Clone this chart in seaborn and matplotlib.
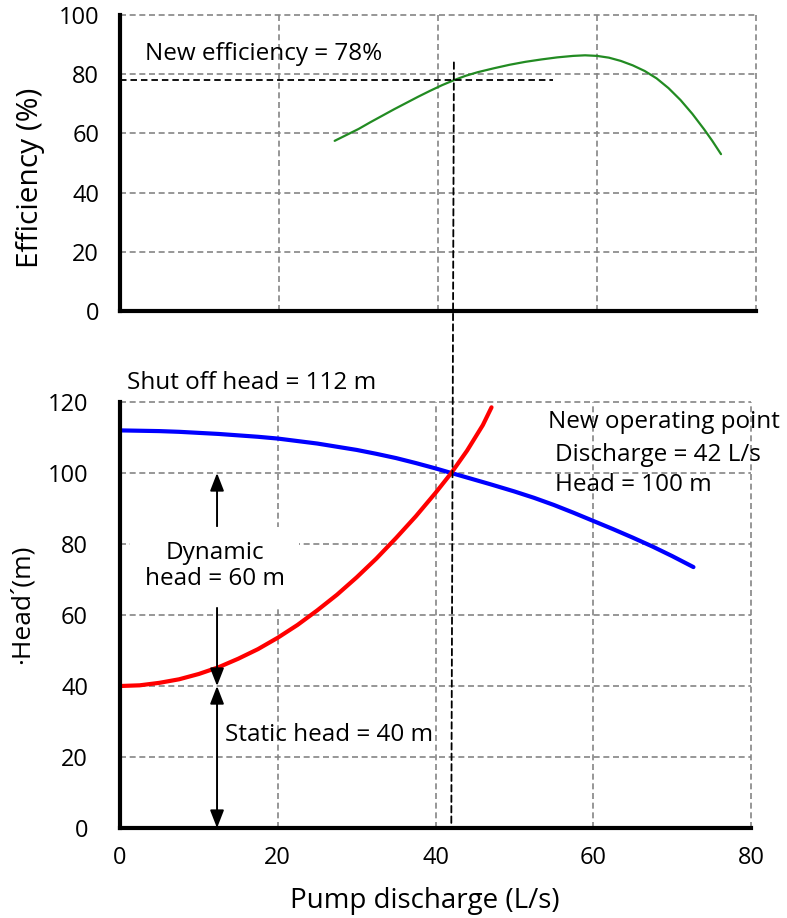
import matplotlib
matplotlib.use("Agg")
import matplotlib.pyplot as plt
from matplotlib.patches import ConnectionPatch
import seaborn as sns
import pandas as pd

# Efficiency curve
eff_flow = [27, 28.5, 30, 31.5, 33, 34.5, 36, 37.5, 39, 40.5, 42, 43.5, 45, 47, 49, 51, 53,
            55, 57, 58.5, 60, 61.5, 63, 64.5, 66, 67.5, 69, 70.5, 72, 73.5, 74.5, 75.6]
eff_pct = [57.5, 59.5, 61.5, 63.8, 66, 68.2, 70.3, 72.4, 74.4, 76.3, 78, 79.5, 80.7, 82.0,
           83.2, 84.2, 85.0, 85.7, 86.2, 86.4, 86.2, 85.6, 84.5, 83.0, 81.1, 78.6, 75.3, 71.3,
           66.6, 61.3, 57.5, 53]

# Pump head curve
pump_flow = [0, 2.5, 5, 7.5, 10, 12.5, 15, 17.5, 20, 22.5, 25, 27.5, 30, 32.5, 35, 37.5, 40,
             42, 44.5, 47, 50, 52.5, 55, 57.5, 60, 62.5, 65, 67.5, 70, 72.7]
pump_head = [112, 111.9, 111.8, 111.6, 111.3, 111.0, 110.6, 110.2, 109.7, 109.0, 108.3,
             107.4, 106.5, 105.4, 104.2, 102.8, 101.3, 100, 98.4, 96.8, 94.8, 93.0, 91.0,
             88.8, 86.5, 84.2, 81.8, 79.3, 76.6, 73.5]

# System head curve
sys_flow = [0, 2.5, 5, 7.5, 10, 12.5, 15, 17.5, 20, 22.5, 25, 27.5, 30, 32.5, 35, 37.5, 40,
            42, 44, 46, 47.1]
sys_head = [40, 40.2, 40.9, 41.9, 43.4, 45.3, 47.7, 50.4, 53.6, 57.2, 61.3, 65.7, 70.6,
            75.9, 81.7, 87.8, 94.4, 100, 106.3, 113.5, 118.5]

# Operating point and head components
op_flow = 42
op_head = 100
new_eff = 78
shutoff_head = 112
static_head = 40
dynamic_head = 60

x_ticks = [0, 20, 40, 60, 80]
eff_ticks = [0, 20, 40, 60, 80, 100]
head_ticks = [0, 20, 40, 60, 80, 100, 120]

sns.set_theme(style="white")
plt.rcParams["font.family"] = ["Open Sans", "DejaVu Sans"]
plt.rcParams["text.color"] = "black"
plt.rcParams["axes.labelcolor"] = "black"

fig = plt.figure(figsize=(7.87, 9.18), dpi=100)
ax1 = fig.add_axes([0.1525, 0.6612, 0.8081, 0.3224])
ax2 = fig.add_axes([0.1525, 0.0980, 0.8018, 0.4641])

dash = (0, (3.6, 2.2))
grid_kw = dict(color="#858585", linestyle=dash, linewidth=1.2)
for ax in (ax1, ax2):
    ax.set_xlim(0, 80)
    ax.set_xticks(x_ticks)
    ax.grid(True, **grid_kw)
    for gl in ax.get_xgridlines() + ax.get_ygridlines():
        gl.set_clip_on(False)
    ax.set_axisbelow(True)
    for side in ("top", "right"):
        ax.spines[side].set_visible(False)
    for side in ("left", "bottom"):
        ax.spines[side].set_color("black")
        ax.spines[side].set_linewidth(3.0)
        ax.spines[side].set_zorder(3)
    ax.tick_params(length=0, labelsize=17, colors="black")

# Top panel: efficiency
df_eff = pd.DataFrame({"flow": eff_flow, "eff": eff_pct})
sns.lineplot(data=df_eff, x="flow", y="eff", ax=ax1, color="#228b22", linewidth=1.6, sort=False)
ax1.set_ylim(0, 100)
ax1.set_yticks(eff_ticks)
ax1.tick_params(axis="y", pad=15)
ax1.tick_params(axis="x", labelbottom=False)
ax1.set_xlabel("")
ax1.set_ylabel("Efficiency (%)", fontsize=21.5, va="center")
ax1.yaxis.set_label_coords(-0.141, 0.449)
ax1.hlines(new_eff, 0, 54.5, colors="black", linestyles=dash, linewidth=1.3, zorder=4)
ax1.text(3.1, 87, f"New efficiency = {new_eff}%", fontsize=17.5, ha="left", va="center")

# Bottom panel: pump and system curves
df_pump = pd.DataFrame({"flow": pump_flow, "head": pump_head})
df_sys = pd.DataFrame({"flow": sys_flow, "head": sys_head})
sns.lineplot(data=df_pump, x="flow", y="head", ax=ax2, color="#0000ff", linewidth=3.0, sort=False)
sns.lineplot(data=df_sys, x="flow", y="head", ax=ax2, color="#ff0000", linewidth=3.0, sort=False)
ax2.set_ylim(0, 120)
ax2.set_yticks(head_ticks)
ax2.tick_params(axis="y", pad=23)
ax2.tick_params(axis="x", pad=13)
ax2.set_xlabel("Pump discharge (L/s)", fontsize=20, va="center")
ax2.xaxis.set_label_coords(0.483, -0.172)
ax2.set_ylabel("\u00b7Head\u00b4(m)", fontsize=19, va="center")
ax2.yaxis.set_label_coords(-0.155, 0.526)

# Vertical guide from the efficiency curve down to the operating point
con = ConnectionPatch(xyA=(op_flow, 84), coordsA=ax1.transData,
                      xyB=(op_flow, 0), coordsB=ax2.transData,
                      color="black", linestyle=dash, linewidth=1.3, zorder=5)
fig.add_artist(con)

# Head arrows
arrow_x = 12.3
arr = dict(arrowstyle="-|>,head_length=0.9,head_width=0.35", color="black", lw=1.4,
           shrinkA=0, shrinkB=0)
ax2.annotate("", xy=(arrow_x, op_head), xytext=(arrow_x, 85), arrowprops=arr)
ax2.annotate("", xy=(arrow_x, static_head), xytext=(arrow_x, 62), arrowprops=arr)
ax2.annotate("", xy=(arrow_x, 0), xytext=(arrow_x, static_head),
             arrowprops=dict(arr, arrowstyle="<|-|>,head_length=0.9,head_width=0.35"))

ax2.text(arrow_x - 0.3, 73.8, f"Dynamic\nhead = {dynamic_head} m", fontsize=17.5,
         ha="center", va="center", multialignment="center", linespacing=1.1,
         bbox=dict(boxstyle="square,pad=0.6", fc="white", ec="none"), zorder=4)
ax2.text(13.3, 26.2, f"Static head = {static_head} m", fontsize=17.5, ha="left", va="center")
ax2.text(0.9, 125.4, f"Shut off head = {shutoff_head} m", fontsize=17.5, ha="left",
         va="center", clip_on=False)
ax2.text(54.3, 114.4, "New operating point", fontsize=17.5, ha="left", va="center")
ax2.text(55.1, 105.1, f"Discharge = {op_flow} L/s", fontsize=17.5, ha="left", va="center")
ax2.text(55.1, 96.6, f"Head = {op_head} m", fontsize=17.5, ha="left", va="center")

fig.savefig("out.png", dpi=100)
